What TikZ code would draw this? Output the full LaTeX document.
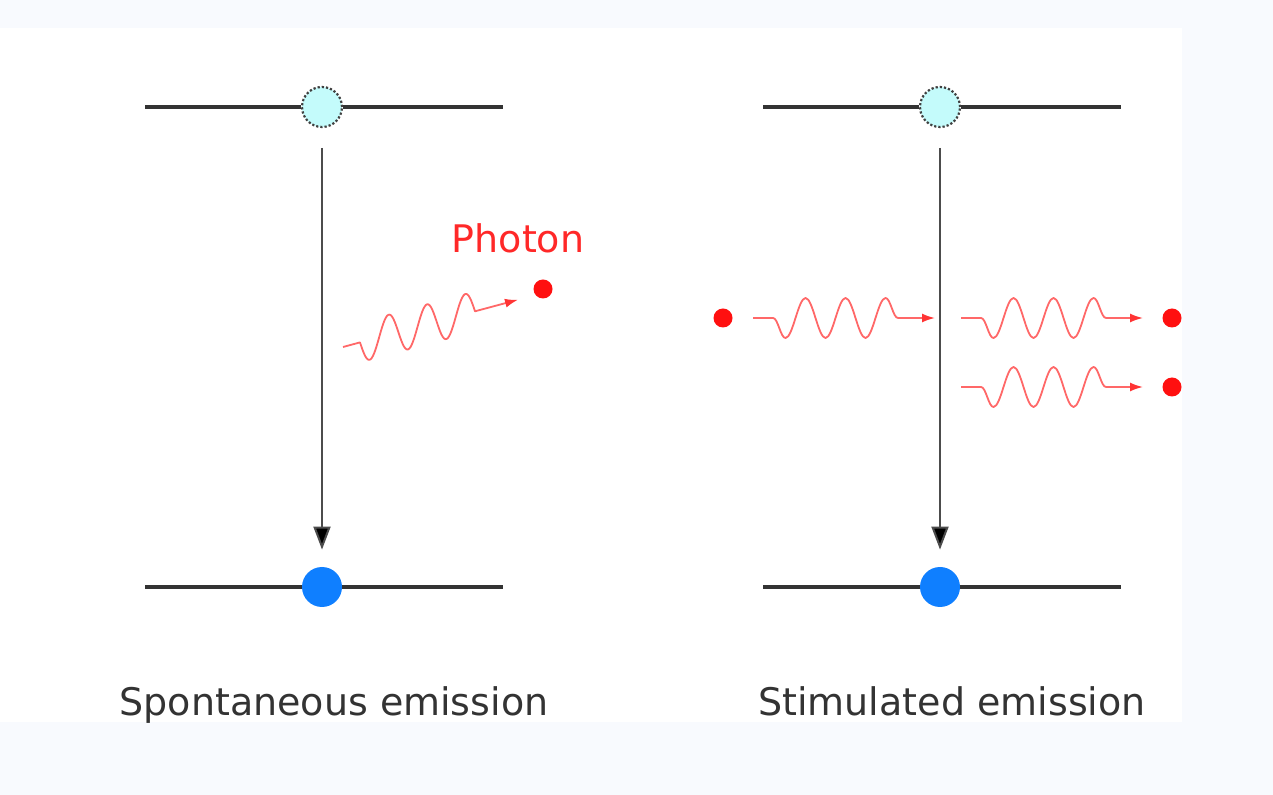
\documentclass[tikz,border=0pt]{standalone}
\usepackage{fontspec}
\setmainfont{DejaVu Sans}
\usetikzlibrary{
	positioning				% relative placement
	, arrows.meta			% sized arrow tips
	, decorations.pathmorphing	% wavy photon lines
}
\definecolor{pagebg}{HTML}{F8FAFE}
\definecolor{levelgray}{HTML}{333333}
\definecolor{excitedfill}{HTML}{C4FBFB}
\definecolor{groundblue}{HTML}{0F7FFF}
\definecolor{photonred}{HTML}{FF1010}
\definecolor{wavered}{HTML}{FF6868}
\definecolor{textgray}{HTML}{333333}

\begin{document}
\begin{tikzpicture}[
			x=0.5pt, y=-0.5pt,
			level/.style={
				draw=levelgray,
				line width=1.6pt
			},
			excited/.style={
				circle,
				fill=excitedfill,
				draw=black!75, densely dotted, line width=1.1pt,
				minimum size=20pt,
				inner sep=0pt
			},
			ground/.style={
				circle,
				fill=groundblue,
				minimum size=20pt,
				inner sep=0pt
			},
			decay/.style={
				draw=black!70,
				line width=1pt,
				-{Triangle[length=11.5pt,width=8.5pt,fill=black]}
			},
			dot/.style={
				circle,
				fill=photonred,
				minimum size=9.5pt,
				inner sep=0pt
			},
			photon line/.style={
				draw=wavered,
				line width=0.9pt,
				line join=round,
				-{Latex[length=6.5pt,width=4.5pt,color=photonred!85]}
			},
			wave/.style={
				photon line,
				decorate,
				decoration={snake, segment length=20pt, amplitude=-10pt,
					pre length=10pt, post length=14pt}
			},
			caption/.style={
				text=textgray,
				font=\fontsize{19}{22}\selectfont,
				anchor=base
			},
			photon label/.style={
				text=photonred!90,
				font=\fontsize{19}{22}\selectfont,
				anchor=base
			}]

			%%% Page and white panel
			\fill [pagebg] (0,0) rectangle (1273,795);
			\fill [white] (0,28) rectangle (1182,722);

			%%% The two energy level diagrams
			\foreach [count=\i] \cx/\lbl in {322/Spontaneous emission, 940/Stimulated emission} {
				% upper and lower state of the atom
				\node [excited] (upper\i) at (\cx,107) {};
				\node [ground] (lower\i) at (\cx,587) {};

				% level lines either side of the electron
				\coordinate (upperL\i) at (\cx-177,107);
				\coordinate (upperR\i) at (\cx+181,107);
				\coordinate (lowerL\i) at (\cx-177,587);
				\coordinate (lowerR\i) at (\cx+181,587);
				\draw [level] (upperL\i) -- (upper\i.west);
				\draw [level] (upper\i.east) -- (upperR\i);
				\draw [level] (lowerL\i) -- (lower\i.west);
				\draw [level] (lower\i.east) -- (lowerR\i);

				% transition downwards
				\coordinate (decayTop\i) at (\cx,148);
				\draw [decay] (decayTop\i) -- ([yshift=8.5pt]lower\i.north);

				\node [caption] (caption\i) at (\cx+12,715) {\lbl};
			};

			%%% Spontaneous emission: one photon leaves
			\node [photon label] (photonText) at (518,253) {Photon};
			\node [dot] (photon) at (543,289) {};
			% slanted wave, bumps stay upright
			\begin{scope}[shift={(343,347)}, yslant=0.27]
				\coordinate (spontStart) at (0,0);
				\coordinate (spontEnd) at (175,0);
				\draw [photon line] (spontStart) -- ++(17,0)
					-- plot [domain=17:132, samples=90, smooth] (\x, {20*sin(9.39*(\x-17))})
					-- (spontEnd);
			\end{scope}

			%%% Stimulated emission: one photon in, two out
			\node [dot] (incoming) at (723,318) {};
			\coordinate (inStart) at (753,318);
			\coordinate (inEnd) at (935,318);
			\draw [wave] (inStart) -- (inEnd);

			\foreach [count=\j] \wy in {318, 387} {
				\node [dot] (outgoing\j) at (1172,\wy) {};
				\coordinate (outStart\j) at (961,\wy);
				\coordinate (outEnd\j) at (1143,\wy);
				\draw [wave] (outStart\j) -- (outEnd\j);
			};

		\end{tikzpicture}
\end{document}
